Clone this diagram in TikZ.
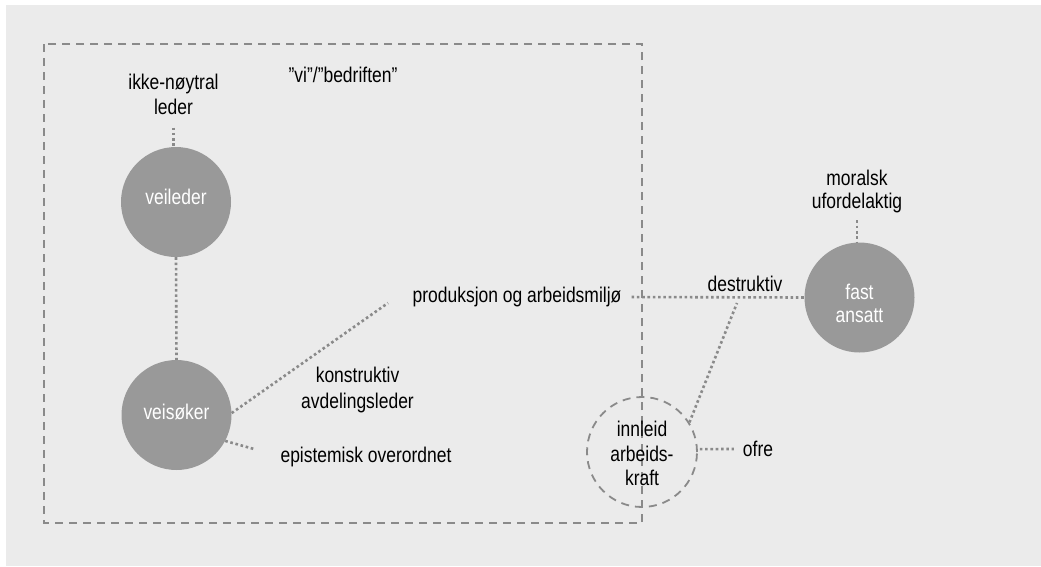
\documentclass[tikz,border=0pt]{standalone}
\usepackage{fontspec}
\setmainfont[FakeStretch=0.82]{Liberation Sans}
\usetikzlibrary{calc}
\definecolor{bg}{HTML}{EBEBEB}
\definecolor{circ}{HTML}{999999}
\definecolor{ln}{HTML}{8A8A8A}
\begin{document}
\begin{tikzpicture}[x=1pt,y=-1pt,
  txt/.style={font=\fontsize{21.3}{25}\selectfont, text=black, inner sep=0pt, align=center},
  wtxt/.style={txt, text=white},
  disc/.style={circle, fill=circ, minimum size=110pt, inner sep=0pt},
  hollow/.style={circle, draw=ln, line width=1.8pt, dash pattern=on 8pt off 6pt, minimum size=110pt, inner sep=0pt},
  dotline/.style={draw=ln, line width=2.6pt, dash pattern=on 2.6pt off 2.7pt},
  frame/.style={draw=ln, line width=1.8pt, dash pattern=on 8pt off 6pt}]

\useasboundingbox (0,0) rectangle (1041,566);
\fill[white] (0,0) rectangle (1041,566);
\fill[bg] (6,5) rectangle (1041,566);

% company frame
\draw[frame] (44,44) rectangle (642,523);

% circles
\node[disc, label={[wtxt,yshift=5pt]center:veileder}] (veileder) at (176,202) {};
\node[disc, label={[wtxt,yshift=3pt]center:veisøker}] (veisoker) at (176.5,415) {};
\node[disc, label={[wtxt,font=\fontsize{21.3}{23.5}\selectfont,yshift=-6pt]center:{fast\\ansatt}}] (fast) at (859.5,297.5) {};
\node[hollow, label={[txt,font=\fontsize{21.3}{24.5}\selectfont,yshift=-1.5pt]center:{innleid\\arbeids-\\kraft}}] (innleid) at (642,452) {};

% labels
\node[txt] (ikke) at (173.5,94.5) {ikke-nøytral\\leder};
\node[txt] (vi) at (343,75) {”vi”/”bedriften”};
\node[txt] (prod) at (517,297) {produksjon og arbeidsmiljø};
\node[txt] (destr) at (745,284) {destruktiv};
\node[txt, font=\fontsize{21.3}{23.5}\selectfont] (moral) at (857,191.5) {moralsk\\ufordelaktig};
\node[txt, font=\fontsize{21.3}{26}\selectfont] (konstr) at (357.5,390) {konstruktiv\\avdelingsleder};
\node[txt] (epist) at (366,457) {epistemisk overordnet};
\node[txt] (ofre) at (758,449) {ofre};

% free ends
\coordinate (pEnd) at (388,303);
\coordinate (eEnd) at (254,449);
\coordinate (dEnd) at (737,303);

% connectors
\draw[dotline, shorten <=12.5pt] (ikke.south) -- (ikke.south |- veileder.north);
\draw[dotline] (veileder.south) -- (veisoker.north);
\draw[dotline] (veisoker.2) -- (pEnd);
\draw[dotline] (veisoker.-28) -- (eEnd);
\draw[dotline, shorten <=10pt] (prod.east) -- (fast.west);
\draw[dotline] (innleid.32) -- (dEnd);
\draw[dotline, shorten <=7pt] (moral.south) -- (moral.south |- fast.north);
\draw[dotline, shorten <=2pt, shorten >=9pt] (innleid.3) -- (ofre.west);
\end{tikzpicture}
\end{document}
